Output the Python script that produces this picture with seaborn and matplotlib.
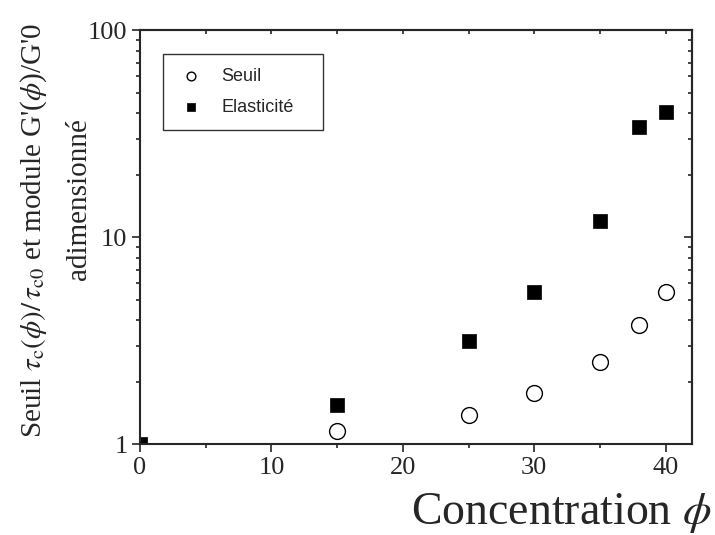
import matplotlib
matplotlib.use("Agg")
import matplotlib.pyplot as plt
import matplotlib.ticker as mticker
import pandas as pd
import seaborn as sns


# Data
conc_seuil = [15, 25, 30, 35, 38, 40]
seuil = [1.16, 1.39, 1.78, 2.49, 3.77, 5.45]

conc_elast = [0, 15, 25, 30, 35, 38, 40]
elasticite = [1.0, 1.55, 3.15, 5.45, 12.0, 34.3, 40.2]

x_ticks = [0, 10, 20, 30, 40]
y_ticks = [1, 10, 100]
y_tick_labels = ["1", "10", "100"]

df_seuil = pd.DataFrame({"Concentration": conc_seuil, "Valeur": seuil})
df_elast = pd.DataFrame({"Concentration": conc_elast, "Valeur": elasticite})


# Style
sns.set_style("ticks")
plt.rcParams["font.family"] = ["Liberation Serif", "DejaVu Serif"]
plt.rcParams["mathtext.fontset"] = "stix"
plt.rcParams["axes.linewidth"] = 1.5


fig = plt.figure(figsize=(7.15, 5.35), dpi=100)
ax = fig.add_axes([0.1958, 0.1692, 0.772, 0.7738])

sns.scatterplot(
    data=df_seuil,
    x="Concentration",
    y="Valeur",
    marker="o",
    s=130,
    facecolor="white",
    edgecolor="black",
    linewidth=1.0,
    label="Seuil",
    ax=ax
)

sns.scatterplot(
    data=df_elast,
    x="Concentration",
    y="Valeur",
    marker="s",
    s=110,
    color="black",
    edgecolor="black",
    linewidth=0.5,
    label="Elasticité",
    ax=ax
)

ax.set_yscale("log")
ax.set_xlim(0, 42)
ax.set_ylim(1, 100)

ax.set_xticks(x_ticks)
ax.xaxis.set_minor_locator(mticker.MultipleLocator(5))
ax.yaxis.set_major_locator(mticker.FixedLocator(y_ticks))
ax.yaxis.set_major_formatter(mticker.FixedFormatter(y_tick_labels))
ax.yaxis.set_minor_locator(mticker.LogLocator(base=10, subs=range(2, 10)))
ax.yaxis.set_minor_formatter(mticker.NullFormatter())

ax.tick_params(which="major", direction="out", length=6, width=1.2,
               labelsize=19, pad=3)
ax.tick_params(which="minor", direction="out", length=3.2, width=1.2)

for side in ["top", "right"]:
    ax.spines[side].set_visible(True)

# Top axis: inward ticks every 5, no labels
top = ax.secondary_xaxis("top")
top.xaxis.set_major_locator(mticker.MultipleLocator(5))
top.tick_params(direction="in", length=3.2, width=1.2, labeltop=False)
top.spines["top"].set_linewidth(1.5)

# Right axis: inward log ticks, no labels
right = ax.secondary_yaxis("right")
right.yaxis.set_major_locator(mticker.FixedLocator(y_ticks))
right.yaxis.set_minor_locator(mticker.LogLocator(base=10, subs=range(2, 10)))
right.yaxis.set_minor_formatter(mticker.NullFormatter())
right.tick_params(which="major", direction="in", length=6, width=1.2,
                  labelright=False)
right.tick_params(which="minor", direction="in", length=3.2, width=1.2)
right.spines["right"].set_linewidth(1.5)


# Axis labels
ax.set_xlabel("Concentration $\\phi$", fontsize=33, ha="right")
ax.xaxis.set_label_coords(1.035, -0.112)

ax.set_ylabel("")
fig.text(0.047, 0.57,
         "Seuil $\\tau_{\\mathrm{c}}\\left(\\phi\\right)/\\,\\tau_{\\mathrm{c0}}$"
         " et module G'($\\phi$)/G'0",
         rotation=90, ha="center", va="center", fontsize=21)
fig.text(0.11, 0.628, "adimensionné",
         rotation=90, ha="center", va="center", fontsize=21)


# Legend
leg = ax.legend(
    loc="upper left",
    bbox_to_anchor=(0.041, 0.762, 0.29, 0.181),
    mode="expand",
    frameon=True,
    fancybox=False,
    edgecolor="black",
    markerscale=0.55,
    prop={"family": "Liberation Sans", "size": 13},
    borderpad=0.75,
    labelspacing=0.8,
    handlelength=1.6,
    handletextpad=0.9,
    borderaxespad=0
)
leg.get_frame().set_linewidth(1.0)

fig.savefig("out.png", dpi=100)
